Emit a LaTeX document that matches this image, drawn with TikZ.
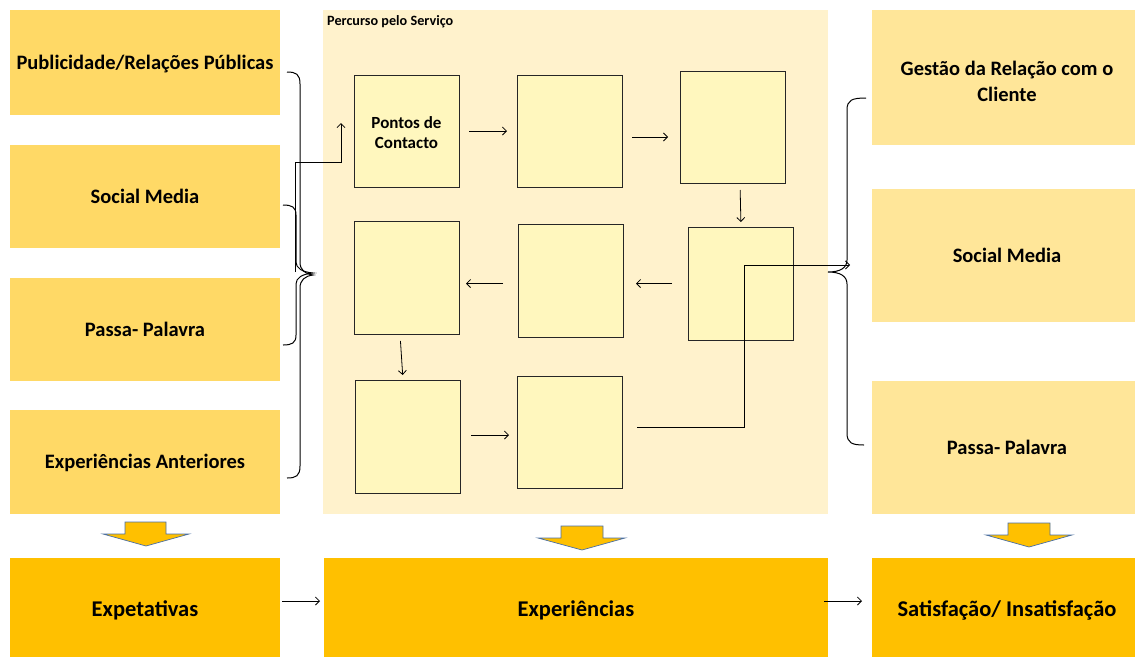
\documentclass[tikz,border=0pt]{standalone}
\usepackage{fontspec}
\setmainfont{Carlito}
\usetikzlibrary{arrows.meta,calc}
\definecolor{lboxc}{HTML}{FFD966}
\definecolor{rboxc}{HTML}{FFE699}
\definecolor{bgc}{HTML}{FFF2CC}
\definecolor{sboxc}{HTML}{FFF7BE}
\definecolor{gold}{HTML}{FFC000}
\definecolor{blueline}{HTML}{4A6FA5}
\tikzset{
  sidebox/.style={fill=lboxc, draw=none, inner sep=0pt, outer sep=0pt, minimum width=270pt, font=\bfseries\fontsize{20.5}{24}\selectfont, align=center, text height=17.6pt, text depth=4.1pt},
  rbox/.style={fill=rboxc, draw=none, inner sep=0pt, outer sep=0pt, minimum width=270pt, minimum height=133pt, font=\bfseries\fontsize{20.5}{26}\selectfont, align=center},
  stepbox/.style={fill=sboxc, draw=black!85, line width=0.8pt, inner sep=0pt, outer sep=0pt, minimum width=105pt, minimum height=112pt, font=\bfseries\fontsize{17}{20}\selectfont, align=center},
  resbox/.style={fill=gold, draw=none, inner sep=0pt, outer sep=0pt, minimum height=99pt, font=\bfseries\fontsize{22.5}{26}\selectfont, text height=22.5pt, text depth=4.5pt},
  arr/.style={-{Straight Barb[length=4pt,width=8pt]}, line width=0.8pt},
  brace/.style={line width=1pt},
  blockarrow/.style={fill=gold, draw=blueline, line width=0.7pt},
}
\begin{document}
\begin{tikzpicture}[x=1pt,y=-1pt]
\useasboundingbox (0,0) rectangle (1135,657);
% left
\node[sidebox, minimum height=105pt] (l1) at (145,62.5) {Publicidade/Relações Públicas};
\node[sidebox, minimum height=103pt] (l2) at (145,196.5) {Social Media};
\node[sidebox, minimum height=103pt] (l3) at (145,329.5) {Passa- Palavra};
\node[sidebox, minimum height=104pt] (l4) at (145,462) {Experiências Anteriores};
% center background
\node[fill=bgc, draw=none, minimum width=505pt, minimum height=504pt, inner sep=0pt] (bg) at (575.5,262) {};
\node[anchor=west, inner sep=0pt, font=\bfseries\fontsize{14.2}{16}\selectfont] (title) at (327,22) {Percurso pelo Serviço};
% steps
\node[stepbox] (A) at (406.5,131) {\rule{0pt}{15pt}Pontos de\\Contacto};
\node[stepbox] (B) at (569.5,131) {};
\node[stepbox] (C) at (732.5,127) {};
\node[stepbox, minimum height=113pt] (D) at (740.5,283.5) {};
\node[stepbox, minimum height=113pt] (E) at (570.5,280.5) {};
\node[stepbox, minimum height=113pt] (F) at (406.5,277.5) {};
\node[stepbox, minimum height=113pt] (G) at (407.5,436.5) {};
\node[stepbox] (H) at (569.5,432) {};
% right
\node[rbox, minimum height=135pt] (r1) at (1007,77.5) {\rule{0pt}{23pt}Gestão da Relação com o\\Cliente};
\node[rbox, text height=17.6pt, text depth=4.1pt] (r2) at (1007,255.5) {Social Media};
\node[rbox, text height=17.6pt, text depth=4.1pt] (r3) at (1007,447.5) {Passa- Palavra};
% bottom
\node[resbox, minimum width=270pt] (b1) at (145,607.5) {Expetativas};
\node[resbox, minimum width=504pt] (b2) at (576,607.5) {Experiências};
\node[resbox, minimum width=270pt] (b3) at (1007,607.5) {Satisfação/ Insatisfação};
% step arrows
\draw[arr, shorten <=10pt, shorten >=10pt] (A.east) -- (B.west);
\draw[arr, shorten <=10pt, shorten >=12pt] ([yshift=-6pt]B.east) -- ([yshift=-6pt]B.east -| C.west);
\draw[arr, shorten <=7pt, shorten >=5pt] ([xshift=7.5pt]C.south) -- ([xshift=0.5pt]D.north);
\draw[arr, shorten <=16pt, shorten >=13pt] (D.west) -- (D.west -| E.east);
\draw[arr, shorten <=15pt, shorten >=7pt] ([yshift=-3pt]E.west) -- ([yshift=-3pt]E.west -| F.east);
\draw[arr, shorten <=7pt, shorten >=5pt] ([xshift=-6.5pt]F.south) -- ([xshift=-4.5pt]G.north);
\draw[arr, shorten <=11pt, shorten >=8pt] ([yshift=1.5pt]G.east) -- ([yshift=1.5pt]G.east -| H.west);
% bottom arrows
\draw[arr, shorten <=2pt, shorten >=4pt] ([yshift=6.5pt]b1.east) -- ([yshift=6.5pt]b1.east -| b2.west);
\draw[arr, shorten <=-4pt, shorten >=10pt] ([yshift=6.5pt]b2.east) -- ([yshift=6.5pt]b2.east -| b3.west);
% braces left
\draw[brace] (287,72) .. controls (296,72) and (300,74) .. (300,84) -- (300,262)
  .. controls (300,270) and (305,274) .. (313,275) .. controls (305,276) and (300,280) .. (300,288)
  -- (300,466) .. controls (300,476) and (296,478) .. (287,478);
\draw[brace] (283,205) .. controls (292,205) and (296,207) .. (296,215) -- (296,262)
  .. controls (296,268) and (302,272) .. (313,273) .. controls (302,274) and (296,278) .. (296,284)
  -- (296,335) .. controls (296,343) and (292,345) .. (283,345);
% brace right
\draw[brace] (866,98) .. controls (852,98) and (847,100) .. (847,110) -- (847,260)
  .. controls (847,268) and (840,272) .. (828,272) .. controls (840,272) and (847,276) .. (847,284)
  -- (847,433) .. controls (847,443) and (852,445) .. (864,445);
% bent connectors
\coordinate (ls) at (295,272);
\coordinate (lk) at (295,162);
\coordinate (le) at (341,123);
\draw[arr] (ls) -- (lk) -| (le);
\coordinate (hs) at (637,427);
\coordinate (hk) at (744,427);
\coordinate (re) at (850,265);
\draw[arr] (hs) -- (hk) |- (re);
% down block arrows
\draw[blockarrow] (125,522) -- (166,522) -- (166,534) -- (189,534) -- (146,546) -- (103,534) -- (125,534) -- cycle;
\draw[blockarrow] (561,526) -- (603,526) -- (603,538) -- (625,538) -- (582,550) -- (538,538) -- (561,538) -- cycle;
\draw[blockarrow] (1008,523) -- (1050,523) -- (1050,535) -- (1072,535) -- (1029,547) -- (986,535) -- (1008,535) -- cycle;
\end{tikzpicture}
\end{document}
